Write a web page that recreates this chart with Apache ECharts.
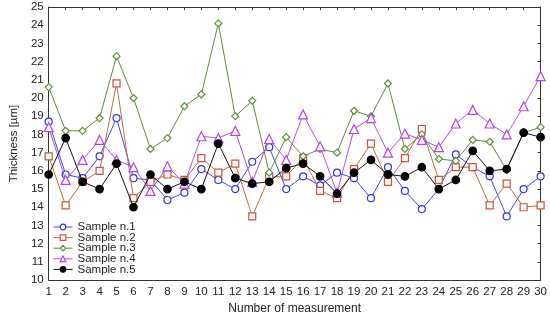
<!DOCTYPE html>
<html>
<head>
<meta charset="utf-8">
<script src="https://cdn.jsdelivr.net/npm/echarts@6/dist/echarts.min.js"></script>
<style>html,body{margin:0;padding:0;background:#fff}#c{width:550px;height:320px}</style>
</head>
<body>
<div id="c"></div>
<script>
const categories = ['1','2','3','4','5','6','7','8','9','10','11','12','13','14','15','16','17','18','19','20','21','22','23','24','25','26','27','28','29','30'];
const seriesNames = ['Sample n.1','Sample n.2','Sample n.3','Sample n.4','Sample n.5'];
const sample1 = [18.7,15.8,15.6,16.8,18.9,15.6,15.5,14.4,14.8,16.1,15.5,15.0,16.5,17.3,15.0,15.7,15.2,15.9,15.6,14.5,16.2,14.9,13.9,15.0,16.9,16.2,15.7,13.5,15.0,15.7];
const sample2 = [16.8,14.1,15.4,16.0,20.8,14.5,15.4,15.8,15.5,16.7,15.9,16.4,13.5,15.65,15.7,16.7,14.9,14.5,16.1,17.5,15.4,16.7,18.3,15.5,16.2,16.2,14.1,15.3,14.0,14.1];
const sample3 = [20.6,18.2,18.2,18.9,22.3,20.0,17.2,17.8,19.55,20.2,24.1,19.0,19.85,15.9,17.85,16.8,17.2,17.0,19.3,19.0,20.8,17.2,18.0,16.65,16.55,17.7,17.6,16.05,18.1,18.4];
const sample4 = [18.4,15.5,16.6,17.7,16.6,16.2,14.9,16.25,15.3,17.9,17.8,18.2,15.4,17.75,16.6,19.1,17.35,14.8,18.3,18.9,17.0,18.05,17.7,17.3,18.6,19.35,18.6,18.0,19.55,21.2];
const sample5 = [15.8,17.8,15.4,15.0,16.4,14.0,15.8,15.0,15.4,15.0,17.5,15.6,15.3,15.4,16.15,16.4,15.7,14.75,15.9,16.6,15.8,15.7,16.2,15.0,15.5,17.1,16.0,16.1,18.1,17.85];
const yTicksMin = 10, yTicksMax = 25, yStep = 1;

const values = [sample1, sample2, sample3, sample4, sample5];
const styles = [
  {symbol:'circle', size:7, stroke:'#3434e8', fill:'#ffffff', line:'#4646ea'},
  {symbol:'rect', size:7, stroke:'#d4503a', fill:'#ffffff', line:'#b8703e'},
  {symbol:'diamond', size:7, stroke:'#5f8f3a', fill:'#ffffff', line:'#5f8a40'},
  {symbol:'triangle', size:9, stroke:'#b840f0', fill:'#ffffff', line:'#b050f0'},
  {symbol:'circle', size:7.5, stroke:'#000000', fill:'#000000', line:'#111111'}
];

const chart = echarts.init(document.getElementById('c'), null, {renderer:'canvas'});
const series = values.map((v,i)=>{
  const s = styles[i];
  return {
    name: seriesNames[i],
    type: 'line',
    data: v,
    symbol: s.symbol,
    symbolSize: s.size,
    showAllSymbol: true,
    lineStyle: {color: s.line, width: 1},
    itemStyle: {color: s.fill, borderColor: s.stroke, borderWidth: 1.2},
    emphasis: {disabled: true},
    animation: false,
    z: 2 + i
  };
});

chart.setOption({
  animation: false,
  backgroundColor: '#ffffff',
  textStyle: {fontFamily: 'Liberation Sans, Arial, sans-serif'},
  grid: {left: 41.5, right: 9, top: 7, bottom: 34, containLabel: false},
  legend: {
    data: seriesNames.map((n,i)=>({name:n, itemStyle:{color: styles[i].fill, borderColor: styles[i].stroke, borderWidth:1.2}, lineStyle:{color: styles[i].line, width:1, type:'solid'}})),
    orient: 'vertical',
    left: 48, top: 216,
    itemWidth: 19, itemHeight: 7, itemGap: -1.4,
    textStyle: {fontSize: 11.5, color: '#222', fontFamily: 'Liberation Sans, Arial, sans-serif'},
    backgroundColor: 'transparent'
  },
  xAxis: [{
    type: 'category', data: categories, boundaryGap: false,
    name: 'Number of measurement', nameLocation: 'middle', nameGap: 21,
    nameTextStyle: {fontSize: 12, color: '#222'},
    axisLine: {lineStyle: {color: '#333', width: 1}},
    axisTick: {show: false},
    axisLabel: {fontSize: 11.5, color: '#222', margin: 6, interval: 0},
    splitLine: {show: false}
  },{
    type: 'category', data: categories, boundaryGap: false, position: 'top',
    axisLine: {lineStyle: {color: '#333', width: 1}},
    axisTick: {show: true, inside: true, length: 3, lineStyle: {color:'#333'}, interval: 0},
    axisLabel: {show: false}, splitLine: {show: false}
  }],
  yAxis: [{
    type: 'value', min: yTicksMin, max: yTicksMax, interval: yStep,
    name: 'Thickness [µm]', nameLocation: 'middle', nameGap: 28, nameRotate: 90,
    nameTextStyle: {fontSize: 11.5, color: '#222'},
    axisLine: {show: true, lineStyle: {color: '#333', width: 1}},
    axisTick: {show: false},
    axisLabel: {fontSize: 11.5, color: '#222', margin: 5},
    splitLine: {show: false}
  },{
    type: 'value', min: yTicksMin, max: yTicksMax, interval: yStep, position: 'right',
    axisLine: {show: true, lineStyle: {color: '#333', width: 1}},
    axisTick: {show: true, inside: true, length: 3, lineStyle: {color:'#333'}},
    axisLabel: {show: false}, splitLine: {show: false}
  }],
  series: series
});
</script>
</body>
</html>
